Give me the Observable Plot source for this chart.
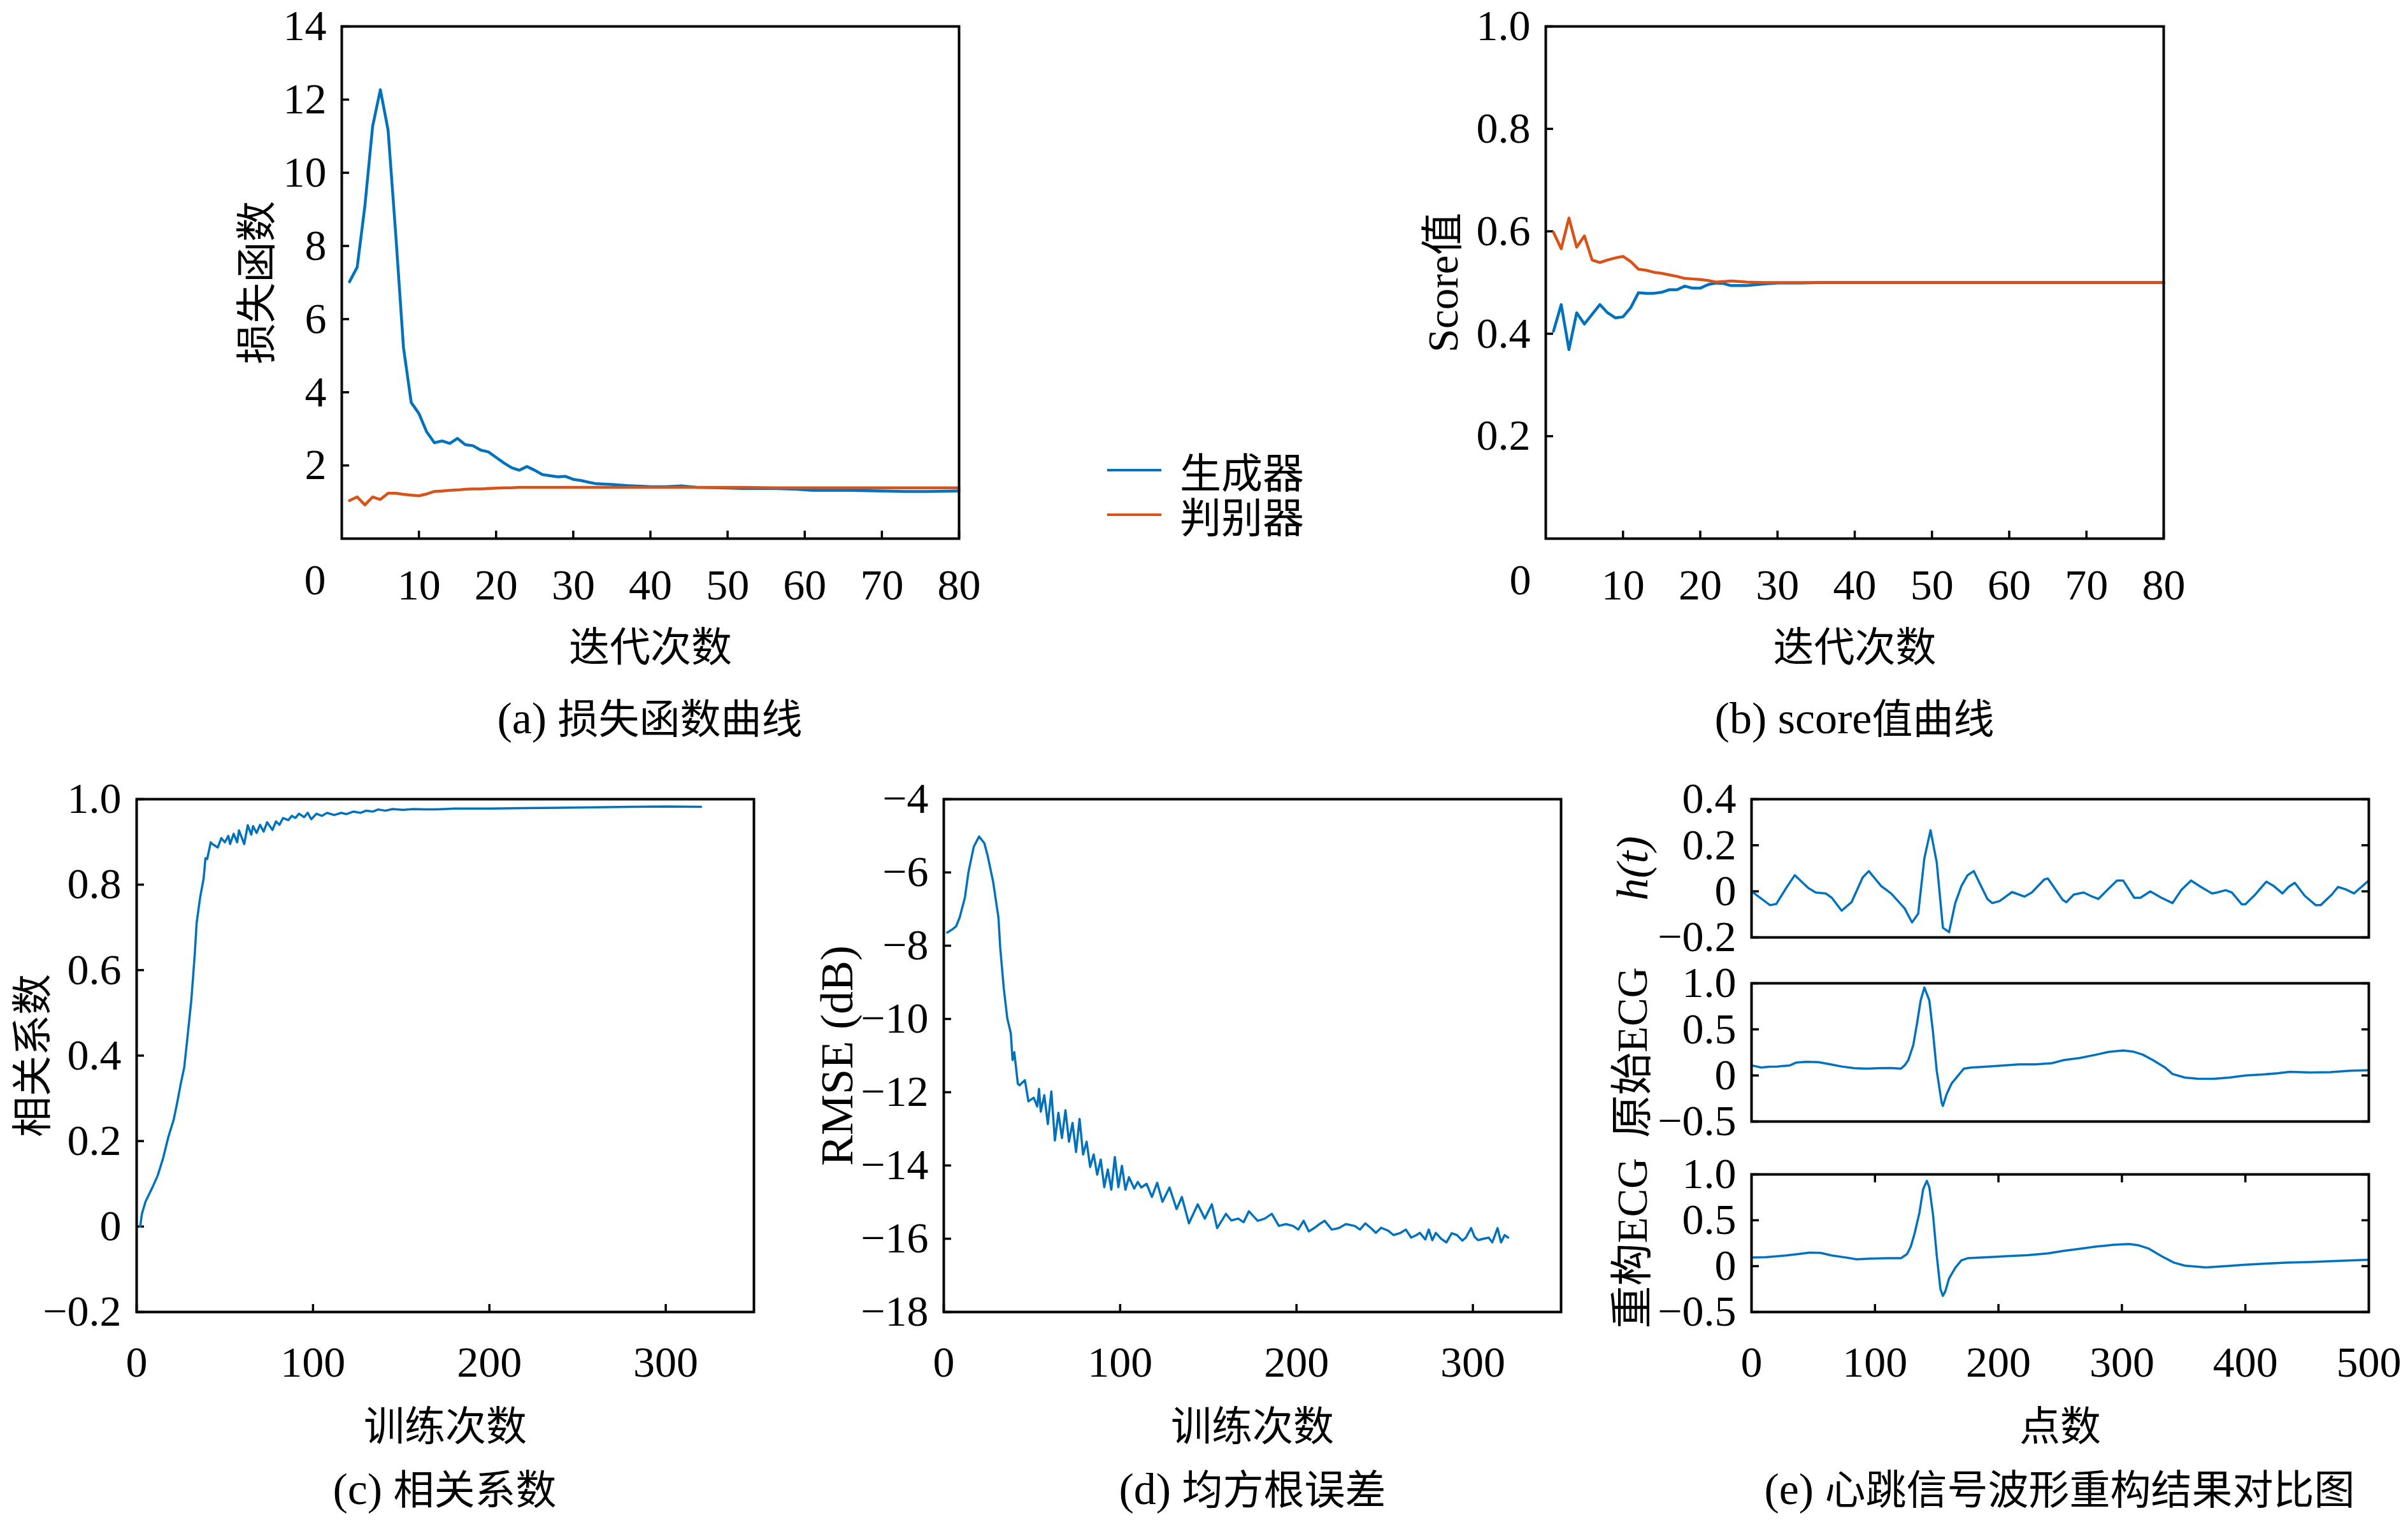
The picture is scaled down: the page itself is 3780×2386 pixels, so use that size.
<!DOCTYPE html>
<html>
<head>
<meta charset="utf-8">
<script src="https://cdn.jsdelivr.net/npm/d3@7"></script>
<script src="https://cdn.jsdelivr.net/npm/@observablehq/plot@0.6"></script>
<style>
  body { margin: 0; background: #fff; }
  #root { position: relative; width: 3780px; height: 2386px; background: #fff; overflow: hidden;
          font-family: "Liberation Serif", "Noto Sans CJK SC", serif; color: #000; }
  .panel { position: absolute; }
  .cap { position: absolute; transform: translate(-50%, -50%); white-space: nowrap; font-size: 64px; line-height: 1; }
  .cap .lat { font-size: 70px; }
  .leg { position: absolute; display: flex; align-items: center; height: 80px; font-size: 65px; white-space: nowrap; }
  .leg .sw { width: 85px; height: 4px; margin-right: 29px; }
</style>
</head>
<body>
<div id="root"></div>
<script>
// ---------------- data ----------------
// (a) loss
const lossEpoch = [1,2,3,4,5,6,7,8,9,10,11,12,13,14,15,16,17,18,19,20,21,22,23,24,25,26,27,28,29,30,31,32,33,35,37,40,42,44,46,49,52,56,59,61,66,70,73,76,80];
const lossG = [7.02,7.42,9.1,11.27,12.27,11.17,8.3,5.22,3.72,3.42,2.92,2.62,2.67,2.6,2.74,2.57,2.54,2.42,2.37,2.22,2.07,1.94,1.87,1.97,1.87,1.75,1.72,1.69,1.7,1.62,1.59,1.54,1.5,1.48,1.45,1.42,1.42,1.44,1.40,1.39,1.37,1.37,1.35,1.32,1.32,1.30,1.29,1.29,1.30];
const lossD = [1.04,1.14,0.92,1.14,1.07,1.24,1.24,1.21,1.19,1.17,1.22,1.29,1.30,1.32,1.33,1.35,1.36,1.36,1.37,1.38,1.39,1.39,1.40,1.40,1.40,1.40,1.40,1.40,1.40,1.40,1.40,1.40,1.40,1.40,1.40,1.40,1.40,1.40,1.40,1.40,1.40,1.39,1.39,1.39,1.39,1.39,1.39,1.39,1.39];

// (b) score
const scoreEpoch = [1,2,3,4,5,6,7,8,9,10,11,12,13,14,15,16,17,18,19,20,21,22,23,24,26,28,30,33,36,40,50,60,70,80];
const scoreG = [0.405,0.457,0.369,0.441,0.419,0.438,0.457,0.441,0.431,0.433,0.451,0.48,0.479,0.479,0.481,0.486,0.486,0.493,0.489,0.489,0.496,0.499,0.498,0.494,0.494,0.497,0.499,0.499,0.5,0.5,0.5,0.5,0.5,0.5];
const scoreD = [0.598,0.566,0.626,0.569,0.591,0.544,0.539,0.544,0.548,0.551,0.541,0.526,0.524,0.52,0.518,0.515,0.512,0.508,0.507,0.506,0.504,0.501,0.502,0.503,0.501,0.5,0.5,0.5,0.5,0.5,0.5,0.5,0.5,0.5];

// (c) correlation coefficient [training step, value]
const corrSeries = [[2,0],[3,0.03],[5,0.058],[7,0.075],[9,0.092],[12,0.12],[15,0.16],[18,0.21],[21,0.25],[23,0.29],[25,0.334],[27,0.373],[29,0.45],[31,0.53],[33,0.64],[34,0.71],[36,0.77],[38,0.815],[39,0.862],[40,0.86],[42,0.899],[43,0.895],[46,0.887],[48,0.909],[50,0.899],[52,0.914],[53,0.895],[55,0.919],[57,0.899],[58,0.927],[61,0.895],[63,0.939],[65,0.917],[66,0.937],[68,0.921],[70,0.94],[72,0.924],[74,0.946],[77,0.928],[79,0.948],[81,0.94],[83,0.956],[86,0.951],[88,0.961],[90,0.956],[92,0.966],[95,0.958],[97,0.968],[99,0.953],[102,0.966],[105,0.961],[108,0.968],[112,0.963],[116,0.968],[119,0.965],[123,0.971],[127,0.968],[130,0.973],[134,0.971],[137,0.976],[141,0.973],[145,0.977],[151,0.975],[157,0.977],[163,0.976],[169,0.976],[175,0.977],[180,0.978],[200,0.978],[220,0.979],[240,0.98],[260,0.981],[280,0.982],[300,0.983],[320,0.982]];

// (d) RMSE (dB) [training step, value]
const rmseSeries = [[2,-7.64],[5,-7.55],[7,-7.47],[9,-7.23],[12,-6.68],[14,-5.99],[17,-5.30],[20,-5.02],[23,-5.20],[25,-5.57],[28,-6.26],[31,-7.23],[32,-8.05],[34,-9.15],[36,-9.98],[38,-10.39],[39,-11.12],[40,-10.91],[42,-11.77],[43,-11.81],[46,-11.67],[48,-12.25],[51,-12.15],[53,-12.39],[54,-11.91],[55,-12.53],[57,-12.08],[59,-12.87],[61,-11.98],[63,-13.32],[65,-12.56],[67,-13.25],[69,-12.49],[71,-13.35],[73,-12.84],[75,-13.63],[77,-12.73],[79,-13.70],[81,-13.35],[83,-14.04],[85,-13.70],[87,-14.25],[89,-13.84],[91,-14.59],[93,-14.11],[95,-14.66],[97,-13.77],[99,-14.59],[101,-14.01],[103,-14.66],[105,-14.32],[108,-14.63],[110,-14.45],[112,-14.6],[115,-14.5],[118,-14.86],[121,-14.47],[124,-14.99],[128,-14.6],[132,-15.19],[135,-14.86],[139,-15.58],[144,-15.06],[148,-15.45],[152,-15.06],[155,-15.71],[160,-15.32],[163,-15.5],[167,-15.45],[170,-15.55],[173,-15.25],[178,-15.51],[182,-15.45],[186,-15.32],[190,-15.65],[194,-15.6],[198,-15.65],[201,-15.75],[204,-15.51],[207,-15.8],[210,-15.71],[213,-15.6],[216,-15.51],[220,-15.75],[224,-15.71],[228,-15.6],[233,-15.65],[236,-15.75],[239,-15.58],[242,-15.7],[245,-15.84],[248,-15.7],[252,-15.78],[255,-15.9],[259,-15.84],[262,-15.75],[265,-15.97],[268,-15.9],[270,-15.84],[273,-16.02],[275,-15.75],[277,-16.04],[279,-15.84],[282,-16.0],[285,-16.1],[288,-15.85],[291,-15.9],[294,-16.05],[296,-15.97],[299,-15.71],[301,-15.95],[303,-16.04],[306,-16.0],[309,-15.97],[311,-16.1],[314,-15.71],[316,-16.1],[318,-15.9],[320,-15.97]];

// (e) heartbeat waveforms [sample point, value]
const hSeries = [[0,0],[15,-0.06],[20,-0.055],[28,0.014],[35,0.07],[46,0.014],[52,-0.005],[60,-0.009],[65,-0.028],[73,-0.084],[81,-0.047],[90,0.06],[95,0.088],[105,0.023],[113,-0.009],[124,-0.074],[130,-0.135],[135,-0.097],[140,0.144],[145,0.265],[150,0.126],[155,-0.158],[160,-0.177],[165,-0.051],[170,0.023],[175,0.07],[180,0.088],[185,0.033],[191,-0.033],[195,-0.051],[201,-0.042],[211,-0.003],[221,-0.023],[227,-0.005],[237,0.051],[240,0.056],[243,0.033],[252,-0.037],[255,-0.047],[261,-0.014],[269,-0.005],[276,-0.023],[281,-0.033],[288,0.005],[296,0.047],[301,0.047],[310,-0.028],[315,-0.028],[323,0],[332,-0.028],[341,-0.051],[348,0.005],[356,0.047],[364,0.019],[373,-0.009],[377,-0.005],[384,0.005],[389,-0.005],[397,-0.056],[400,-0.056],[408,-0.014],[417,0.042],[423,0.023],[430,-0.009],[435,0.019],[440,0.037],[448,-0.019],[457,-0.06],[461,-0.06],[470,-0.014],[475,0.019],[481,0.009],[488,-0.009],[494,0.019],[500,0.047]];
const origSeries = [[0,0.109],[8,0.086],[14,0.095],[21,0.097],[31,0.109],[36,0.139],[44,0.148],[54,0.144],[64,0.12],[73,0.097],[83,0.079],[93,0.074],[103,0.079],[113,0.081],[121,0.074],[124,0.109],[127,0.167],[131,0.33],[134,0.56],[137,0.815],[140,0.954],[144,0.815],[147,0.468],[150,0.051],[154,-0.296],[155,-0.331],[158,-0.204],[162,-0.088],[167,-0.007],[172,0.074],[178,0.086],[191,0.097],[204,0.109],[217,0.12],[230,0.12],[243,0.132],[253,0.167],[266,0.19],[279,0.225],[289,0.255],[301,0.271],[309,0.259],[317,0.225],[325,0.167],[335,0.086],[341,0.016],[351,-0.023],[361,-0.035],[374,-0.037],[387,-0.023],[400,0],[413,0.009],[426,0.023],[436,0.039],[453,0.032],[469,0.035],[485,0.051],[500,0.056]];
const reconSeries = [[0,0.093],[11,0.097],[28,0.116],[38,0.132],[47,0.148],[56,0.144],[65,0.116],[77,0.093],[85,0.074],[96,0.081],[110,0.086],[121,0.086],[126,0.132],[129,0.213],[132,0.352],[136,0.583],[139,0.838],[142,0.93],[144,0.861],[147,0.56],[150,0.12],[153,-0.25],[155,-0.324],[157,-0.273],[160,-0.134],[165,-0.018],[170,0.063],[175,0.086],[191,0.097],[208,0.109],[224,0.12],[240,0.139],[253,0.167],[266,0.19],[279,0.213],[293,0.232],[306,0.241],[314,0.225],[322,0.19],[332,0.109],[342,0.039],[351,0.005],[368,-0.014],[384,0],[400,0.016],[417,0.028],[433,0.039],[453,0.046],[472,0.056],[500,0.07]];

// tick values
const ticksLoss = [2,4,6,8,10,12,14];
const ticksEpoch = [10,20,30,40,50,60,70,80];
const ticksScore = [0.2,0.4,0.6,0.8,1.0];
const ticksCorr = [-0.2,0,0.2,0.4,0.6,0.8,1.0];
const ticksRmse = [-18,-16,-14,-12,-10,-8,-6,-4];
const ticksTrain = [0,100,200,300];
const ticksH = [-0.2,0,0.2,0.4];
const ticksEcg = [-0.5,0,0.5,1.0];
const ticksPoint = [0,100,200,300,400,500];
const ticksPointInner = [100,200,300,400];

const legendNames = ["生成器", "判别器"];
const captions = ["(a) 损失函数曲线", "(b) score值曲线", "(c) 相关系数", "(d) 均方根误差", "(e) 心跳信号波形重构结果对比图"];

// ---------------- style ----------------
const BLUE = "#0072BD", ORANGE = "#D95319";
const FONT = '"Liberation Serif", "Noto Sans CJK SC", serif';
const TICKFS = 68, LABFS = 64, TL = 12, TW = 3.5;
const fmt1 = d => d === 0 ? "0" : d3.format(".1f")(d);
const fmtInt = d3.format("d");

const root = document.getElementById("root");

function addPanel(o) {
  const [L, R, T, B] = o.frame;
  const ML = 260, MR = 80, MT = 40, MB = 240;
  const marks = [];
  // inward tick marks
  if (o.leftTicks) marks.push(Plot.axisY(o.leftTicks, {anchor: "left", tickSize: TL, dx: TL, tickFormat: () => "", label: null, stroke: "black", strokeWidth: TW}));
  if (o.rightTicks) marks.push(Plot.axisY(o.rightTicks, {anchor: "right", tickSize: TL, dx: -TL, tickFormat: () => "", label: null, stroke: "black", strokeWidth: TW}));
  if (o.bottomTicks) marks.push(Plot.axisX(o.bottomTicks, {anchor: "bottom", tickSize: TL, dy: -TL, tickFormat: () => "", label: null, stroke: "black", strokeWidth: TW}));
  if (o.topTicks) marks.push(Plot.axisX(o.topTicks, {anchor: "top", tickSize: TL, dy: TL, tickFormat: () => "", label: null, stroke: "black", strokeWidth: TW}));
  // tick labels
  if (o.yLabels) marks.push(Plot.axisY(o.yLabels, {anchor: "left", tickSize: 0, tickPadding: 24, tickFormat: o.yFmt, fontSize: TICKFS, label: null, fill: "black"}));
  if (o.xLabels) marks.push(Plot.axisX(o.xLabels, {anchor: "bottom", tickSize: 0, tickPadding: o.xPad, tickFormat: o.xFmt, fontSize: TICKFS, label: null, fill: "black"}));
  if (o.corner) marks.push(Plot.text(["0"], {frameAnchor: "bottom-left", dx: o.corner[0], dy: o.corner[1], fontSize: TICKFS, textAnchor: "middle", lineAnchor: "middle", fill: "black"}));
  // data
  marks.push(...o.series);
  marks.push(Plot.frame({stroke: "black", strokeWidth: 4}));
  // axis titles
  if (o.yTitle) marks.push(Plot.text([o.yTitle], {frameAnchor: "left", dx: o.yTitleDx, rotate: -90, fontSize: o.yTitleFs || LABFS, textAnchor: "middle", lineAnchor: "middle", fill: "black", fontStyle: o.yItalic ? "italic" : "normal"}));
  if (o.xTitle) marks.push(Plot.text([o.xTitle], {frameAnchor: "bottom", dy: o.xTitleDy, fontSize: LABFS, textAnchor: "middle", lineAnchor: "middle", fill: "black"}));

  const svg = Plot.plot({
    width: R - L + ML + MR,
    height: B - T + MT + MB,
    marginLeft: ML, marginRight: MR, marginTop: MT, marginBottom: MB,
    x: {domain: o.xDomain, axis: null},
    y: {domain: o.yDomain, axis: null},
    style: {fontFamily: FONT, background: "transparent", overflow: "visible", maxWidth: "none", color: "black"},
    marks
  });
  const div = document.createElement("div");
  div.className = "panel";
  div.style.left = (L - ML) + "px";
  div.style.top = (T - MT) + "px";
  div.appendChild(svg);
  root.appendChild(div);
}

function lineXY(xs, ys, color, w) {
  return Plot.line(ys, {x: xs, y: ys, stroke: color, strokeWidth: w, strokeLinejoin: "round"});
}
function linePairs(pairs, color, w) {
  return Plot.line(pairs, {x: d => d[0], y: d => d[1], stroke: color, strokeWidth: w, strokeLinejoin: "round"});
}

// (a)
addPanel({
  frame: [536, 1505, 41, 845], xDomain: [0, 80], yDomain: [0, 14],
  leftTicks: ticksLoss, bottomTicks: ticksEpoch, yLabels: ticksLoss, yFmt: fmtInt,
  xLabels: ticksEpoch, xFmt: fmtInt, xPad: 47, corner: [-42, 66],
  yTitle: "损失函数", yTitleDx: -132, xTitle: "迭代次数", xTitleDy: 172,
  series: [lineXY(lossEpoch, lossG, BLUE, 4.5), lineXY(lossEpoch, lossD, ORANGE, 4.5)]
});
// (b)
addPanel({
  frame: [2426, 3396, 41, 845], xDomain: [0, 80], yDomain: [0, 1],
  leftTicks: ticksScore, bottomTicks: ticksEpoch, yLabels: ticksScore, yFmt: fmt1,
  xLabels: ticksEpoch, xFmt: fmtInt, xPad: 47, corner: [-40, 66],
  yTitle: "Score值", yTitleFs: 67, yTitleDx: -160, xTitle: "迭代次数", xTitleDy: 172,
  series: [lineXY(scoreEpoch, scoreG, BLUE, 4.5), lineXY(scoreEpoch, scoreD, ORANGE, 4.5)]
});
// (c)
addPanel({
  frame: [214, 1183, 1254, 2059], xDomain: [0, 350], yDomain: [-0.2, 1.0],
  leftTicks: ticksCorr, bottomTicks: ticksTrain, yLabels: ticksCorr, yFmt: fmt1,
  xLabels: ticksTrain, xFmt: fmtInt, xPad: 53,
  yTitle: "相关系数", yTitleDx: -162, xTitle: "训练次数", xTitleDy: 181,
  series: [linePairs(corrSeries, BLUE, 3.5)]
});
// (d)
addPanel({
  frame: [1481, 2450, 1254, 2059], xDomain: [0, 350], yDomain: [-18, -4],
  leftTicks: ticksRmse, bottomTicks: ticksTrain, yLabels: ticksRmse, yFmt: fmtInt,
  xLabels: ticksTrain, xFmt: fmtInt, xPad: 53,
  yTitle: "RMSE (dB)", yTitleFs: 72, yTitleDx: -167, xTitle: "训练次数", xTitleDy: 181,
  series: [linePairs(rmseSeries, BLUE, 3.5)]
});
// (e) three stacked panels
addPanel({
  frame: [2749, 3718, 1254, 1471], xDomain: [0, 500], yDomain: [-0.2, 0.4],
  leftTicks: ticksH, rightTicks: ticksH, yLabels: ticksH, yFmt: fmt1,
  yTitle: "h(t)", yTitleFs: 70, yItalic: true, yTitleDx: -186,
  series: [linePairs(hSeries, BLUE, 3.5)]
});
addPanel({
  frame: [2749, 3718, 1543, 1760], xDomain: [0, 500], yDomain: [-0.5, 1.0],
  leftTicks: ticksEcg, rightTicks: ticksEcg, yLabels: ticksEcg, yFmt: fmt1,
  yTitle: "原始ECG", yTitleFs: 67, yTitleDx: -186,
  series: [linePairs(origSeries, BLUE, 3.5)]
});
addPanel({
  frame: [2749, 3718, 1843, 2059], xDomain: [0, 500], yDomain: [-0.5, 1.0],
  leftTicks: ticksEcg, rightTicks: ticksEcg, topTicks: ticksPointInner, bottomTicks: ticksPointInner,
  yLabels: ticksEcg, yFmt: fmt1, xLabels: ticksPoint, xFmt: fmtInt, xPad: 53,
  yTitle: "重构ECG", yTitleFs: 67, yTitleDx: -186, xTitle: "点数", xTitleDy: 181,
  series: [linePairs(reconSeries, BLUE, 3.5)]
});

// captions (Latin runs slightly larger, as in the LaTeX original)
const capPos = [[1020, 1128], [2911, 1128], [698, 2338], [1966, 2338], [3233, 2338]];
captions.forEach((t, i) => {
  const d = document.createElement("div");
  d.className = "cap";
  t.split(/([\x20-\x7e]+)/).filter(s => s.length).forEach(part => {
    const s = document.createElement("span");
    if (/^[\x20-\x7e]+$/.test(part)) s.className = "lat";
    s.textContent = part;
    d.appendChild(s);
  });
  d.style.left = capPos[i][0] + "px";
  d.style.top = capPos[i][1] + "px";
  root.appendChild(d);
});

// legend
const legColors = [BLUE, ORANGE];
const legY = [738, 808];
legendNames.forEach((name, i) => {
  const d = document.createElement("div");
  d.className = "leg";
  d.style.left = "1738px";
  d.style.top = (legY[i] - 40) + "px";
  const sw = document.createElement("div");
  sw.className = "sw";
  sw.style.background = legColors[i];
  const tx = document.createElement("span");
  tx.textContent = name;
  d.appendChild(sw); d.appendChild(tx);
  root.appendChild(d);
});
</script>
</body>
</html>
